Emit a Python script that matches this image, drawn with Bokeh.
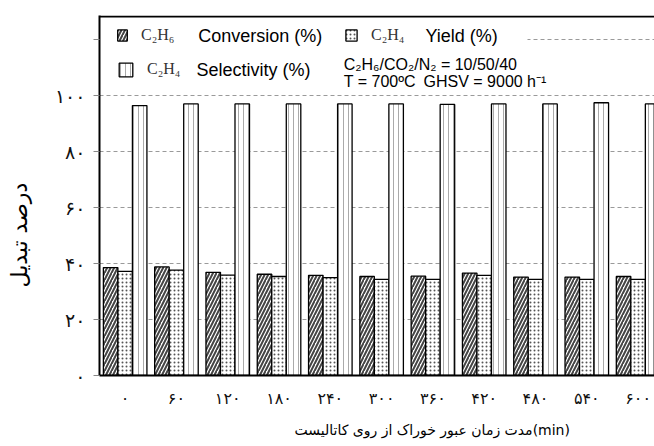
from bokeh.plotting import figure
from bokeh.models import (Range1d, FixedTicker, Label, Legend, LegendItem, Title,
                          ColumnDataSource, BoxAnnotation, Span)
from bokeh.transform import dodge
from bokeh.embed import file_html
from bokeh.resources import INLINE

# ---- data ----
minutes = [0, 60, 120, 180, 240, 300, 360, 420, 480, 540, 600]
minute_labels = ["۰", "۶۰", "۱۲۰", "۱۸۰", "۲۴۰", "۳۰۰", "۳۶۰", "۴۲۰", "۴۸۰", "۵۴۰", "۶۰۰"]
conversion = [38.6, 38.8, 36.9, 36.2, 35.8, 35.4, 35.5, 36.6, 35.2, 35.2, 35.4]
yield_c2h4 = [37.2, 37.7, 35.9, 35.4, 35.0, 34.4, 34.4, 35.8, 34.4, 34.4, 34.4]
selectivity = [96.5, 97.1, 97.1, 97.1, 97.1, 97.1, 96.9, 97.1, 97.1, 97.5, 97.1]
y_ticks = [0, 20, 40, 60, 80, 100, 120]
y_tick_labels = ["۰", "۲۰", "۴۰", "۶۰", "۸۰", "۱۰۰", ""]

idx = list(range(len(minutes)))
src = ColumnDataSource(dict(x=idx, conv=conversion, yld=yield_c2h4, sel=selectivity))

p = figure(width=654, height=446, x_range=Range1d(-0.5, 10.32), y_range=Range1d(0, 128.7),
           output_backend="svg", toolbar_location=None,
           min_border_left=99, min_border_right=0, min_border_top=15, min_border_bottom=71)
p.outline_line_color = None
p.background_fill_color = "white"

# grid
p.xgrid.grid_line_color = None
p.ygrid.ticker = FixedTicker(ticks=y_ticks)
p.ygrid.grid_line_color = "#9a9a9a"
p.ygrid.grid_line_dash = "4 3"
p.ygrid.grid_line_width = 1

# axes
p.xaxis.ticker = FixedTicker(ticks=idx)
p.xaxis.major_label_overrides = {i: lab for i, lab in zip(idx, minute_labels)}
p.xaxis.major_tick_line_color = None
p.xaxis.minor_tick_line_color = None
p.xaxis.major_label_standoff = 7
p.xaxis.major_label_text_font = "DejaVu Sans"
p.xaxis.major_label_text_font_size = "16px"
p.xaxis.major_label_text_color = "#111111"
p.xaxis.axis_line_width = 2
p.xaxis.axis_line_color = "black"
# blank spacer label: pushes the x title further down
p.xaxis.axis_label = " "
p.xaxis.axis_label_text_font_size = "2px"
p.xaxis.axis_label_standoff = 4

p.yaxis.ticker = FixedTicker(ticks=y_ticks)
p.yaxis.major_label_overrides = {t: lab for t, lab in zip(y_ticks, y_tick_labels)}
p.yaxis.major_tick_out = 6
p.yaxis.major_tick_in = 0
p.yaxis.major_tick_line_color = "#888888"
p.yaxis.minor_tick_line_color = None
p.yaxis.major_label_standoff = 8
p.yaxis.major_label_text_font = "DejaVu Sans"
p.yaxis.major_label_text_font_size = "19px"
p.yaxis.major_label_text_color = "#111111"
p.yaxis.axis_line_width = 2
p.yaxis.axis_line_color = "black"
# blank spacer label: pushes the y title further left
p.yaxis.axis_label = " "
p.yaxis.axis_label_text_font_size = "2px"
p.yaxis.axis_label_standoff = 6

# axis titles (offset like in the reference)
p.add_layout(Title(text="مدت زمان عبور خوراک از روی کاتالیست(min)", align="left", offset=195,
                   vertical_align="bottom", standoff=0, text_font="DejaVu Sans",
                   text_font_size="14px", text_font_style="normal", text_color="black"), "below")
p.add_layout(Title(text="درصد تبدیل", align="left", offset=88, vertical_align="top",
                   standoff=13, text_font="DejaVu Sans", text_font_size="22px",
                   text_font_style="normal", text_color="black"), "left")

# top frame line
p.add_layout(Span(location=128.35, dimension="width", line_color="black", line_width=2))

# white box behind legend (hides the 120 gridline there)
p.add_layout(BoxAnnotation(left=0, right=428, bottom=282, top=355,
                           left_units="screen", right_units="screen",
                           bottom_units="screen", top_units="screen",
                           fill_color="white", fill_alpha=1, line_color=None,
                           level="underlay"))

# bars
w = 0.283
r_conv = p.vbar(x=dodge("x", -w, range=p.x_range), top="conv", width=w, source=src,
                fill_color="white", line_color="black", line_width=1.3,
                hatch_pattern="right_diagonal_line", hatch_color="#444444",
                hatch_weight=2, hatch_scale=7)
r_yld = p.vbar(x=dodge("x", 0, range=p.x_range), top="yld", width=w, source=src,
               fill_color="white", line_color="black", line_width=1.3,
               hatch_pattern="dot", hatch_color="#555555",
               hatch_weight=3, hatch_scale=4)
r_sel = p.vbar(x=dodge("x", w, range=p.x_range), top="sel", width=w, source=src,
               fill_color="white", line_color="black", line_width=1.3,
               hatch_pattern="vertical_line", hatch_color="#aaaaaa",
               hatch_weight=1, hatch_scale=5)

def mk_legend(label, rend, loc, gw, gh):
    return Legend(items=[LegendItem(label=label, renderers=[rend])], location=loc,
                  glyph_width=gw, glyph_height=gh, label_standoff=13, padding=0, margin=0,
                  spacing=0, border_line_color=None, background_fill_alpha=0,
                  label_text_font="Liberation Serif", label_text_font_size="16px",
                  label_text_color="#333333", label_height=gh)

p.add_layout(mk_legend("C₂H₆", r_conv, (17, 331), 12, 14))
p.add_layout(mk_legend("C₂H₄", r_yld, (245, 331), 14, 14))
p.add_layout(mk_legend("C₂H₄", r_sel, (18, 297), 17, 17))

def txt(s, x, y, size="18px"):
    p.add_layout(Label(x=x, y=y, x_units="screen", y_units="screen", text=s,
                       text_font="Liberation Sans", text_font_size=size, text_color="black",
                       text_align="left", text_baseline="alphabetic"))

txt("Conversion (%)", 98.7, 339.5)
txt("Yield (%)", 326, 339.5)
txt("Selectivity (%)", 97, 306)
txt("C₂H₆/CO₂/N₂ = 10/50/40", 244.3, 311, size="16px")
txt("T = 700ºC", 244.3, 294, size="16px")
txt("GHSV = 9000 h⁻¹", 324, 294, size="16px")

open("out.html", "w").write(file_html(p, INLINE))
